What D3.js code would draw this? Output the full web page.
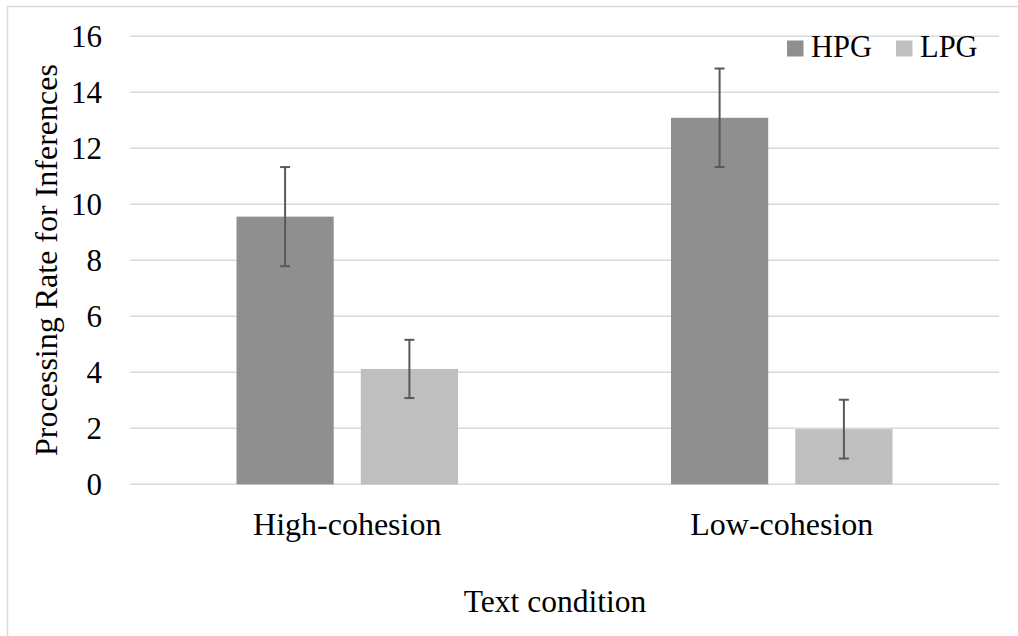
<!DOCTYPE html>
<html>
<head>
<meta charset="utf-8">
<script src="https://cdn.jsdelivr.net/npm/d3@7"></script>
<style>
  html, body { margin: 0; padding: 0; background: #ffffff; }
  svg { display: block; }
</style>
</head>
<body>
<svg id="chart" width="1018" height="636"></svg>
<script>
// Text conditions on the x axis
const categories = ["High-cohesion", "Low-cohesion"];
// Reader groups
const series = ["HPG", "LPG"];
// Mean processing rate per group, in category order
const hpgValues = [9.56, 13.09];
const lpgValues = [4.12, 1.97];
// Error bar half-widths
const hpgErrors = [1.77, 1.76];
const lpgErrors = [1.04, 1.05];
// Y axis ticks
const yTicks = [0, 2, 4, 6, 8, 10, 12, 14, 16];

const colors = { HPG: "#8f8f8f", LPG: "#bfbfbf" };
const rows = [];
categories.forEach((c, i) => {
  rows.push({ category: c, series: "HPG", value: hpgValues[i], err: hpgErrors[i] });
  rows.push({ category: c, series: "LPG", value: lpgValues[i], err: lpgErrors[i] });
});

const serif = "'Liberation Serif', 'Times New Roman', Tinos, serif";
const svg = d3.select("#chart");

// Chart frame (left and top edges visible)
svg.append("path")
  .attr("d", "M7.5,636 L7.5,6.5 L1018,6.5")
  .attr("fill", "none")
  .attr("stroke", "#d9d9d9")
  .attr("stroke-width", 1.5);

const plot = { left: 130, right: 999, top: 36.3, bottom: 484.3 };

const y = d3.scaleLinear().domain([0, 16]).range([plot.bottom, plot.top]);
const x0 = d3.scaleBand().domain(categories).range([plot.left, plot.right]);
const groupInset = 106.5;
const x1 = d3.scaleBand().domain(series)
  .range([groupInset, x0.bandwidth() - groupInset])
  .paddingInner(0.218);

// Gridlines
svg.append("g")
  .selectAll("line")
  .data(yTicks)
  .join("line")
  .attr("x1", plot.left)
  .attr("x2", plot.right)
  .attr("y1", d => y(d))
  .attr("y2", d => y(d))
  .attr("stroke", "#d9d9d9")
  .attr("stroke-width", 1.5);

// Y axis tick labels
const yAxis = d3.axisLeft(y).tickValues(yTicks).tickSize(0).tickPadding(0);
const yg = svg.append("g")
  .attr("transform", `translate(102,0)`)
  .call(yAxis)
  .attr("font-family", serif)
  .attr("font-size", 31);
yg.select(".domain").remove();
yg.selectAll("text")
  .style("font-family", serif)
  .attr("fill", "#000")
  .attr("dy", "0.34em");

// Bars
svg.append("g")
  .selectAll("rect")
  .data(rows)
  .join("rect")
  .attr("x", d => x0(d.category) + x1(d.series))
  .attr("width", x1.bandwidth())
  .attr("y", d => y(d.value))
  .attr("height", d => y(0) - y(d.value))
  .attr("fill", d => colors[d.series]);

// Error bars
const eb = svg.append("g")
  .attr("stroke", "#595959")
  .attr("stroke-width", 2)
  .selectAll("g")
  .data(rows)
  .join("g")
  .attr("transform", d => `translate(${x0(d.category) + x1(d.series) + x1.bandwidth() / 2},0)`);
eb.append("line")
  .attr("y1", d => y(d.value + d.err))
  .attr("y2", d => y(d.value - d.err));
eb.append("line")
  .attr("x1", -5).attr("x2", 5)
  .attr("y1", d => y(d.value + d.err))
  .attr("y2", d => y(d.value + d.err));
eb.append("line")
  .attr("x1", -5).attr("x2", 5)
  .attr("y1", d => y(d.value - d.err))
  .attr("y2", d => y(d.value - d.err));

// Category labels
svg.append("g")
  .selectAll("text")
  .data(categories)
  .join("text")
  .attr("x", d => x0(d) + x0.bandwidth() / 2)
  .attr("y", 535)
  .attr("text-anchor", "middle")
  .attr("font-size", 32)
  .attr("fill", "#000")
  .style("font-family", serif)
  .text(d => d);

// Axis titles
svg.append("text")
  .attr("x", 555)
  .attr("y", 612)
  .attr("text-anchor", "middle")
  .attr("font-size", 31.5)
  .attr("fill", "#000")
  .style("font-family", serif)
  .text("Text condition");

svg.append("text")
  .attr("transform", "translate(57,260) rotate(-90)")
  .attr("text-anchor", "middle")
  .attr("font-size", 32)
  .attr("fill", "#000")
  .style("font-family", serif)
  .text("Processing Rate for Inferences");

// Legend
const legendX = d3.scaleOrdinal().domain(series).range([787, 896]);
const lg = svg.append("g")
  .selectAll("g")
  .data(series)
  .join("g")
  .attr("transform", d => `translate(${legendX(d)},0)`);
lg.append("rect")
  .attr("x", 0).attr("y", 40.5)
  .attr("width", 16.5).attr("height", 16)
  .attr("fill", d => colors[d]);
lg.append("text")
  .attr("x", 24)
  .attr("y", 57)
  .attr("font-size", 30.5)
  .attr("fill", "#000")
  .style("font-family", serif)
  .text(d => d);
</script>
</body>
</html>
